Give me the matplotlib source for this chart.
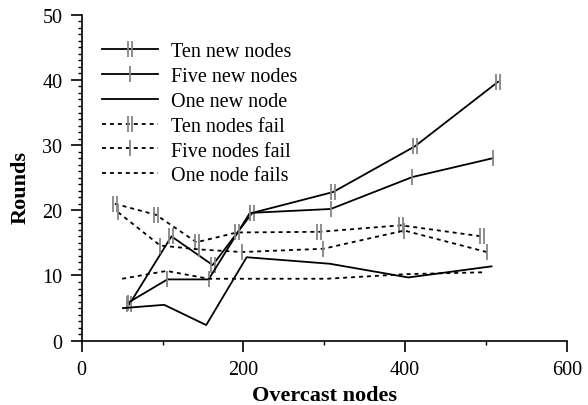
import matplotlib
matplotlib.use("Agg")
import matplotlib.pyplot as plt
from matplotlib.path import Path
from matplotlib.ticker import MultipleLocator

plt.rcParams['font.family'] = ['Liberation Serif', 'DejaVu Serif']

# Data
ten_new_x = [59, 111, 162, 211, 311, 412, 515]
ten_new_y = [5.6, 16.0, 11.6, 19.6, 22.8, 29.8, 39.7]
five_new_x = [57, 106, 157, 208, 308, 409, 509]
five_new_y = [5.8, 9.4, 9.4, 19.6, 20.2, 25.1, 28.0]
one_new_x = [51, 102, 154, 204, 307, 404, 507]
one_new_y = [5.0, 5.5, 2.4, 12.8, 11.8, 9.7, 11.4]
ten_fail_x = [41, 92, 142, 192, 294, 395, 495]
ten_fail_y = [21.0, 19.3, 15.1, 16.6, 16.7, 17.7, 16.0]
five_fail_x = [45, 97, 145, 198, 299, 399, 501]
five_fail_y = [19.7, 14.6, 14.0, 13.6, 14.1, 16.9, 13.6]
one_fail_x = [50, 105, 157, 205, 303, 400, 499]
one_fail_y = [9.5, 10.7, 9.5, 9.5, 9.5, 10.2, 10.5]

labels = ["Ten new nodes", "Five new nodes", "One new node",
          "Ten nodes fail", "Five nodes fail", "One node fails"]

double_bar = Path([(-0.25, -1), (-0.25, 1), (0.25, -1), (0.25, 1)],
                  [Path.MOVETO, Path.LINETO, Path.MOVETO, Path.LINETO])

fig = plt.figure(figsize=(5.88, 4.06), dpi=100)
ax = fig.add_axes([0.139, 0.1584, 0.8248, 0.8029])

gray = '#858585'
dash = (0, (2.2, 2.2))
common = dict(color='black', lw=1.3, markeredgecolor=gray, markersize=12, markeredgewidth=1.3)

ax.plot(ten_new_x, ten_new_y, linestyle='-', marker=double_bar, label=labels[0], **common)
ax.plot(five_new_x, five_new_y, linestyle='-', marker='|', label=labels[1], **common)
ax.plot(one_new_x, one_new_y, linestyle='-', label=labels[2], color='black', lw=1.3)
ax.plot(ten_fail_x, ten_fail_y, linestyle=dash, marker=double_bar, label=labels[3], **common)
ax.plot(five_fail_x, five_fail_y, linestyle=dash, marker='|', label=labels[4], **common)
ax.plot(one_fail_x, one_fail_y, linestyle=dash, label=labels[5], color='black', lw=1.3)

ax.set_xlim(0, 600)
ax.set_ylim(0, 50)
ax.xaxis.set_major_locator(MultipleLocator(200))
ax.xaxis.set_minor_locator(MultipleLocator(100))
ax.yaxis.set_major_locator(MultipleLocator(10))
ax.yaxis.set_minor_locator(MultipleLocator(1))
for s in ['top', 'right']:
    ax.spines[s].set_visible(False)
for s in ['left', 'bottom']:
    ax.spines[s].set_linewidth(1.2)
ax.tick_params(axis='both', which='major', direction='out', length=8, width=1.2, labelsize=14.5, pad=6)
ax.tick_params(axis='both', which='minor', direction='out', length=3, width=1.0)

ax.set_xlabel("Overcast nodes", fontsize=16, fontweight='bold', labelpad=4.5)
ax.set_ylabel("Rounds", fontsize=16, fontweight='bold', labelpad=8)
ax.yaxis.label.set_y(0.472)

leg = ax.legend(loc='upper left', bbox_to_anchor=(0.026, 0.942), frameon=False,
                fontsize=14.5, handlelength=2.75, handletextpad=0.65,
                labelspacing=0.29, numpoints=1, borderaxespad=0)

fig.savefig("out.png", dpi=100)
